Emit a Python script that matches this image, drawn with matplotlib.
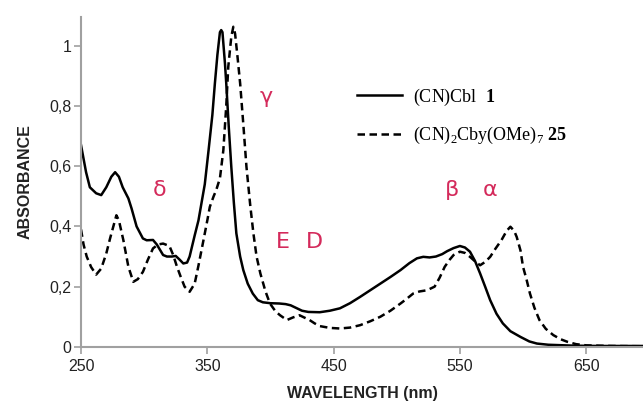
import matplotlib
matplotlib.use("Agg")
import matplotlib.pyplot as plt
from matplotlib.lines import Line2D

plt.rcParams['font.family'] = ['Liberation Sans', 'DejaVu Sans']
plt.rcParams['mathtext.fontset'] = 'custom'
plt.rcParams['mathtext.rm'] = 'Liberation Serif'
plt.rcParams['mathtext.bf'] = 'Liberation Serif:bold'

# (CN)Cbl 1
wl_cbl = [250, 254, 257, 262, 266, 270, 274, 277, 280, 283, 287.5, 290, 294, 299,
          302, 307, 310, 315, 318, 322, 325, 328, 331, 334, 336, 340, 343, 348,
          351, 354, 356, 358, 360, 361, 362, 364, 365, 367, 369, 371, 373, 376,
          378.5, 382, 386, 390, 394, 400, 407, 412, 416, 420, 425, 430, 439, 447,
          455, 463, 471, 479, 487, 495, 503, 510, 516, 521, 526, 531, 536, 540,
          545, 550, 554, 558, 562, 566, 570, 574, 579, 584, 590, 598, 605, 611,
          620, 640, 660, 695]
abs_cbl = [0.67, 0.58, 0.53, 0.51, 0.504, 0.53, 0.565, 0.58, 0.565, 0.53, 0.493,
           0.46, 0.40, 0.36, 0.354, 0.355, 0.34, 0.305, 0.30, 0.30, 0.302, 0.29,
           0.277, 0.28, 0.30, 0.37, 0.42, 0.54, 0.653, 0.77, 0.875, 0.97, 1.045,
           1.052, 1.045, 0.94, 0.875, 0.73, 0.598, 0.48, 0.377, 0.30, 0.255, 0.21,
           0.177, 0.155, 0.148, 0.145, 0.144, 0.142, 0.138, 0.13, 0.12, 0.116,
           0.115, 0.12, 0.128, 0.145, 0.166, 0.188, 0.21, 0.232, 0.255, 0.278,
           0.294, 0.299, 0.297, 0.30, 0.308, 0.318, 0.328, 0.335, 0.33, 0.316,
           0.285, 0.244, 0.20, 0.155, 0.11, 0.078, 0.052, 0.033, 0.018, 0.011,
           0.007, 0.004, 0.003, 0.003]

# (CN)2Cby(OMe)7 25
wl_cby = [250, 252, 254.5, 258, 262, 266, 270, 273, 275.6, 278, 280, 283.5, 287.5,
          291.4, 295, 299, 303, 307, 311, 315, 320, 323, 326, 329, 332, 336, 340,
          343, 347, 350, 352, 355, 357, 360, 362.7, 365, 366.6, 369, 370.6, 372,
          374, 376, 378.5, 381, 384, 386.5, 389, 392, 396, 399.6, 404, 407.6, 413,
          418, 423, 427, 431, 435, 439, 447, 455, 463, 471, 479, 487, 495, 503,
          508, 513, 518, 524, 530, 534, 538, 542, 545, 550, 554, 558, 562, 566,
          570, 574, 578, 583, 587, 590, 593, 595, 598, 600, 603, 605.5, 609, 613,
          618, 624, 630, 635, 642, 650, 670, 695]
abs_cby = [0.39, 0.34, 0.30, 0.265, 0.24, 0.26, 0.31, 0.36, 0.40, 0.437, 0.42,
           0.355, 0.266, 0.216, 0.225, 0.249, 0.29, 0.327, 0.34, 0.343, 0.335,
           0.305, 0.266, 0.232, 0.20, 0.183, 0.21, 0.27, 0.355, 0.42, 0.465, 0.50,
           0.52, 0.56, 0.653, 0.80, 0.93, 1.03, 1.063, 1.04, 0.96, 0.875, 0.74,
           0.598, 0.47, 0.377, 0.30, 0.244, 0.185, 0.144, 0.118, 0.105, 0.089,
           0.098, 0.105, 0.097, 0.089, 0.078, 0.069, 0.063, 0.061, 0.064, 0.072,
           0.085, 0.10, 0.12, 0.144, 0.16, 0.177, 0.184, 0.188, 0.20, 0.23, 0.266,
           0.29, 0.305, 0.316, 0.312, 0.299, 0.284, 0.271, 0.282, 0.299, 0.325,
           0.355, 0.385, 0.399, 0.385, 0.365, 0.32, 0.266, 0.22, 0.177, 0.13,
           0.089, 0.06, 0.039, 0.025, 0.017, 0.009, 0.005, 0.003, 0.002]

band_labels = ['γ', 'δ', 'E', 'D', 'β', 'α']
band_x = [397, 312.5, 410, 434.5, 543.7, 574]
band_y = [0.83, 0.52, 0.348, 0.348, 0.52, 0.52]

xticks = [250, 350, 450, 550, 650]
yticks = [0, 0.2, 0.4, 0.6, 0.8, 1]
ytick_labels = ['0', '0,2', '0,4', '0,6', '0,8', '1']

fig = plt.figure(figsize=(6.43, 4.01), dpi=100)
ax = fig.add_axes([0.126, 0.135, 0.874, 0.823])

ax.plot(wl_cbl, abs_cbl, color='black', lw=1.8, solid_joinstyle='round')
ax.plot(wl_cby, abs_cby, color='black', lw=1.8, linestyle=(0, (3, 1.8)))

for lab, x, y in zip(band_labels, band_x, band_y):
    ax.text(x, y, lab, color='#d42a5b', fontsize=16, ha='center', va='center',
            family=['DejaVu Sans'])

ax.set_xlim(250, 695)
ax.set_ylim(0, 1.096)
ax.set_xticks(xticks)
ax.set_yticks(yticks)
ax.set_yticklabels(ytick_labels)

for s in ['top', 'right']:
    ax.spines[s].set_visible(False)
for s in ['left', 'bottom']:
    ax.spines[s].set_color('#a0a0a0')
    ax.spines[s].set_linewidth(1.5)
ax.tick_params(colors='#a0a0a0', length=5, width=1.2, labelsize=11.5,
               labelcolor='#222222')
ax.tick_params(axis='y', pad=2)

ax.set_xlabel('WAVELENGTH (nm)', fontsize=11.5, fontweight='bold',
              color='#222222', labelpad=9)
ax.set_ylabel('ABSORBANCE', fontsize=11.5, fontweight='bold',
              color='#222222', labelpad=12)

handles = [Line2D([], [], color='black', lw=1.8),
           Line2D([], [], color='black', lw=1.8, linestyle=(0, (3, 1.8)))]
labels = [r'(CN)Cbl  $\mathbf{1}$', r'(CN)$_2$Cby(OMe)$_7$ $\mathbf{25}$']
leg = ax.legend(handles, labels, loc='upper left', bbox_to_anchor=(0.462, 0.838),
                frameon=False, handlelength=2.5, handletextpad=0.6,
                labelspacing=0.95, prop={'family': 'Liberation Serif', 'size': 13})

fig.savefig('out.png', dpi=100)
